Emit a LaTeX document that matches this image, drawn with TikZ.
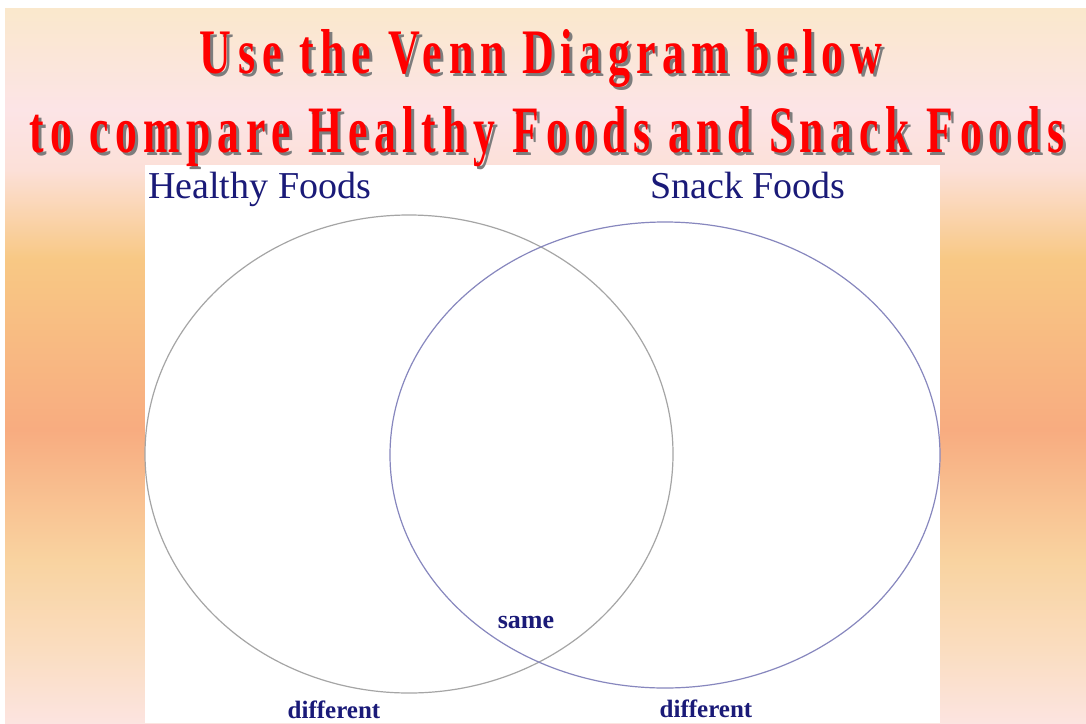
\documentclass[tikz,border=0pt]{standalone}
\usepackage{fontspec}
\usepackage{graphicx}
\usetikzlibrary{shapes.geometric}
\setmainfont{Liberation Serif}
\newfontfamily\titlefont{Liberation Serif}[LetterSpace=15]
\definecolor{vennnavy}{RGB}{26,26,120}
\definecolor{titlered}{RGB}{255,0,0}
\definecolor{shadowgray}{RGB}{125,125,125}
\definecolor{ringgray}{RGB}{165,165,165}
\definecolor{ringblue}{RGB}{135,135,190}
\definecolor{bgtop}{RGB}{250,232,204}
\definecolor{bgpink}{RGB}{252,228,230}
\definecolor{bgrose}{RGB}{252,224,216}
\definecolor{bgamber}{RGB}{248,200,132}
\definecolor{bgsalmon}{RGB}{248,172,128}
\definecolor{bgsand}{RGB}{249,211,160}
\definecolor{bgcream}{RGB}{250,221,192}
\definecolor{bgbottom}{RGB}{252,228,224}
% stops run from the bottom edge (25bp) to the top edge (75bp)
\pgfdeclareverticalshading{slidebg}{100bp}{color(0bp)=(bgbottom); color(25bp)=(bgbottom);
 color(30.1bp)=(bgcream); color(36.4bp)=(bgsand); color(45.5bp)=(bgsalmon);
 color(57.4bp)=(bgamber); color(63.7bp)=(bgrose); color(67.9bp)=(bgpink);
 color(75bp)=(bgtop); color(100bp)=(bgtop)}
\newcommand{\titleline}[3]{\resizebox{#1}{#2}{\titlefont\bfseries #3}}

\begin{document}
\begin{tikzpicture}[x=1pt,y=-1pt,title/.style={inner sep=0pt,anchor=base},ring/.style={ellipse,inner sep=0pt,outer sep=0pt,line width=1.2pt},label/.style={text=vennnavy,inner sep=0pt}]
\useasboundingbox (0,0) rectangle (1086,723);
\fill[white] (0,0) rectangle (1086,723);
\shade[shading=slidebg] (5,8) rectangle (1086,723);
\fill[white] (145,165) rectangle (940,723);

% title, grey copy first as the drop shadow
\foreach \dx/\col/\tag in {3/shadowgray/s,0/titlered/r}{
 \node[title,text=\col] (lineA\tag) at (541+\dx,73+\dx) {\titleline{682pt}{44pt}{Use the Venn Diagram below}};
 \node[title,text=\col] (lineB\tag) at (547+\dx,152+\dx) {\titleline{1035pt}{46pt}{to compare Healthy Foods and Snack Foods}};
}

\node[ring,draw=ringgray,minimum width=528pt,minimum height=478pt] (healthy) at (409,454) {};
\node[ring,draw=ringblue,minimum width=550pt,minimum height=466pt] (snack) at (665,455) {};

\node[label,anchor=base west,font=\fontsize{38}{40}\selectfont] (healthyname) at (148,198) {Healthy Foods};
\node[label,anchor=base west,font=\fontsize{38}{40}\selectfont] (snackname) at (650,198) {Snack Foods};
\node[label,anchor=base,font=\fontsize{26}{28}\selectfont\bfseries] (same) at (526,628) {same};
\node[label,anchor=base,font=\fontsize{25}{27}\selectfont\bfseries] (diffhealthy) at (334,718) {different};
\node[label,anchor=base,font=\fontsize{25}{27}\selectfont\bfseries] (diffsnack) at (706,717) {different};
\end{tikzpicture}
\end{document}
